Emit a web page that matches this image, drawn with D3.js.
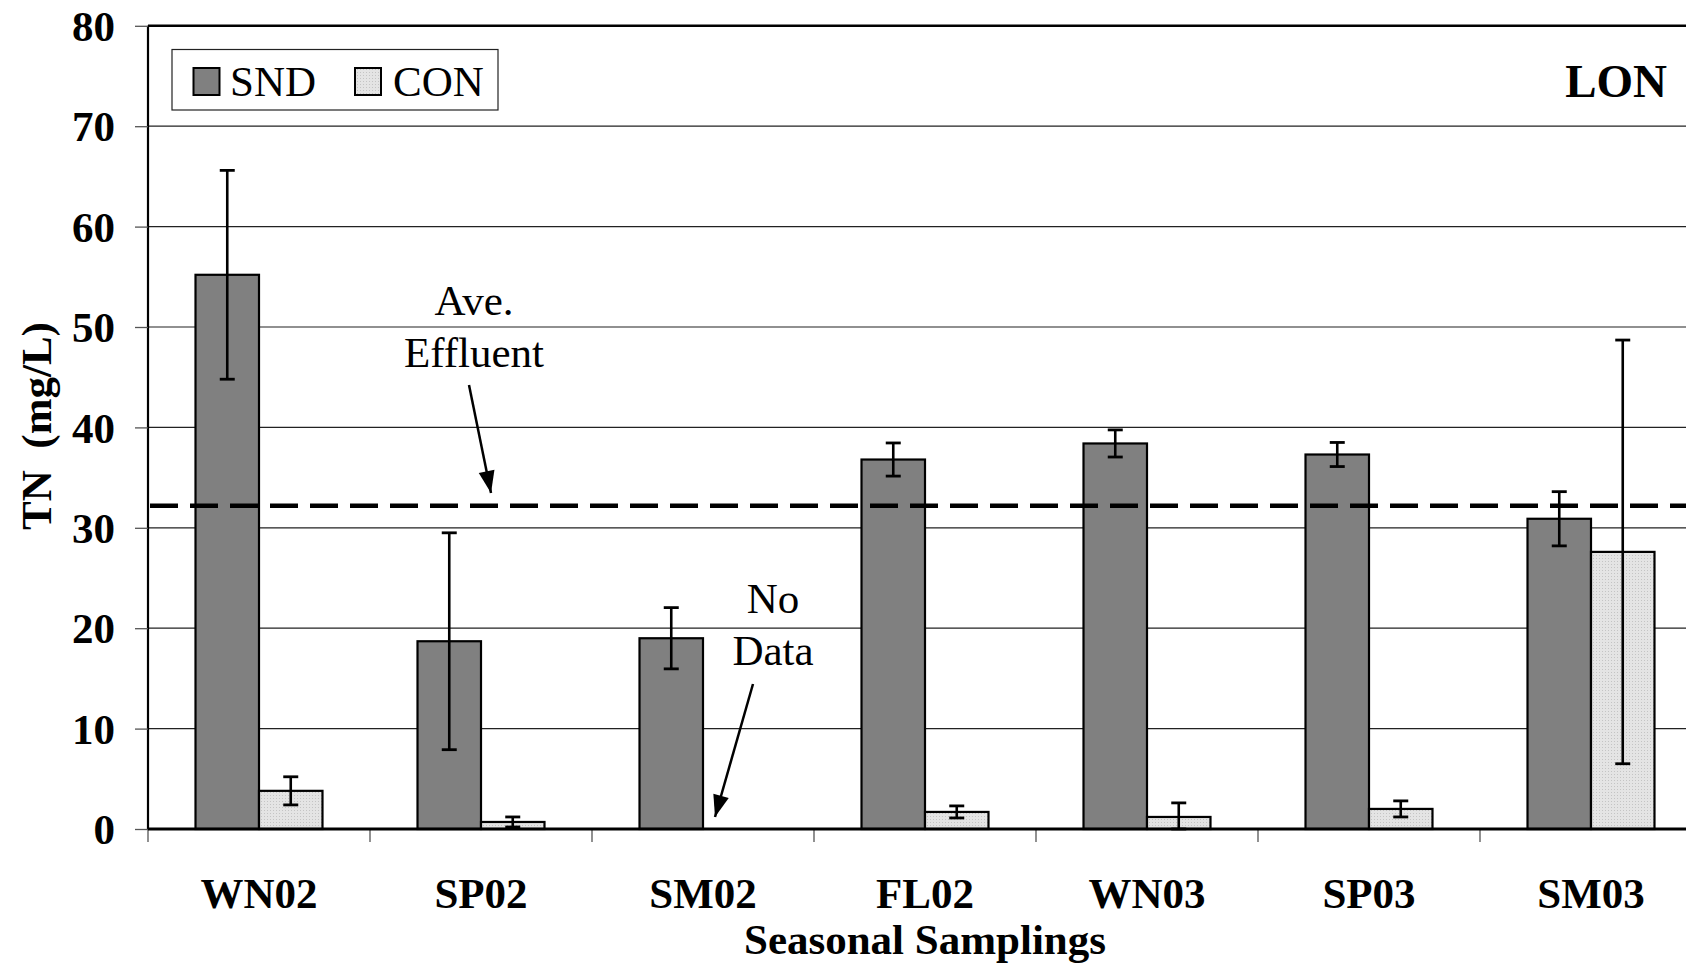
<!DOCTYPE html>
<html><head><meta charset="utf-8">
<script src="https://cdn.jsdelivr.net/npm/d3@7"></script>
<style>body{margin:0;background:#fff}svg{display:block;font-family:"Liberation Serif","Times New Roman",serif}</style>
</head><body><svg id="c" width="1686" height="966"></svg>
<script>
const categories = ["WN02","SP02","SM02","FL02","WN03","SP03","SM03"];
const series = ["SND","CON"];
const sndValues = [55.2, 18.7, 19.0, 36.8, 38.4, 37.3, 30.9];
const sndErrors = [10.4, 10.8, 3.05, 1.65, 1.35, 1.2, 2.7];
const conValues = [3.8, 0.7, null, 1.7, 1.2, 2.0, 27.6];
const conErrors = [1.4, 0.5, null, 0.6, 1.4, 0.8, 21.1];
const yTicks = [0,10,20,30,40,50,60,70,80];
const aveEffluent = 32.2;
const yTitle = "TN  (mg/L)";
const xTitle = "Seasonal Samplings";
const siteLabel = "LON";

const svg = d3.select("#c");
const L = 148, R = 1702, T = 25.8, B = 829;
const x = d3.scaleBand().domain(categories).range([L, R]).paddingInner(0).paddingOuter(0);
const y = d3.scaleLinear().domain([0, 80]).range([B, T]);
const bw = x.bandwidth() * 0.286;

const defs = svg.append("defs");
const pat = defs.append("pattern").attr("id","dots").attr("width",3).attr("height",3).attr("patternUnits","userSpaceOnUse");
pat.append("rect").attr("width",3).attr("height",3).attr("fill","#e4e4e4");
pat.append("rect").attr("width",1).attr("height",1).attr("fill","#c4c4c4");

// gridlines
svg.append("g").selectAll("line").data(yTicks.filter(d => d > 0 && d < 80)).join("line")
  .attr("x1", L).attr("x2", R).attr("y1", d => y(d)).attr("y2", d => y(d))
  .attr("stroke", "#222").attr("stroke-width", 1.2);
// top border
svg.append("line").attr("x1", L).attr("x2", R).attr("y1", y(80)).attr("y2", y(80)).attr("stroke","#000").attr("stroke-width",2.5);

// y axis
const ya = svg.append("g").attr("transform", `translate(${L},0)`)
  .call(d3.axisLeft(y).tickValues(yTicks).tickSize(13).tickPadding(20));
ya.select(".domain").attr("stroke","#000").attr("stroke-width",2.2).attr("d", `M0,${y(0)}V${y(80)}`);
ya.selectAll(".tick line").attr("stroke","#555").attr("stroke-width",1.3);
ya.selectAll("text").attr("font-size",43).attr("font-weight","bold").attr("fill","#000")
  .attr("font-family","Liberation Serif").attr("dy","0.34em");

// x axis
const xa = svg.append("g").attr("transform", `translate(0,${B})`)
  .call(d3.axisBottom(x).tickSize(0).tickPadding(48));
xa.select(".domain").remove();
xa.selectAll("text").attr("font-size",43).attr("font-weight","bold").attr("fill","#000")
  .attr("font-family","Liberation Serif");
svg.append("g").selectAll("line").data(categories).join("line")
  .attr("x1", d => x(d)).attr("x2", d => x(d)).attr("y1", B).attr("y2", B + 13)
  .attr("stroke","#555").attr("stroke-width",1.3);

// bars
const rows = categories.map((c, i) => ({c, snd: sndValues[i], sndE: sndErrors[i], con: conValues[i], conE: conErrors[i]}));
const g = svg.append("g");
rows.forEach(r => {
  const cx = x(r.c) + x.bandwidth() / 2;
  g.append("rect").attr("x", cx - bw).attr("y", y(r.snd)).attr("width", bw).attr("height", y(0) - y(r.snd))
    .attr("fill","#808080").attr("stroke","#000").attr("stroke-width",2.2);
  if (r.con != null) {
    g.append("rect").attr("x", cx).attr("y", y(r.con)).attr("width", bw).attr("height", y(0) - y(r.con))
      .attr("fill","url(#dots)").attr("stroke","#000").attr("stroke-width",2.2);
  }
});
// error bars
function errbar(xc, v, e) {
  const lo = Math.max(0, v - e), hi = v + e, cw = 7.5;
  g.append("line").attr("x1", xc).attr("x2", xc).attr("y1", y(lo)).attr("y2", y(hi)).attr("stroke","#000").attr("stroke-width",2.6);
  g.append("line").attr("x1", xc - cw).attr("x2", xc + cw).attr("y1", y(hi)).attr("y2", y(hi)).attr("stroke","#000").attr("stroke-width",2.8);
  g.append("line").attr("x1", xc - cw).attr("x2", xc + cw).attr("y1", y(lo)).attr("y2", y(lo)).attr("stroke","#000").attr("stroke-width",2.8);
}
rows.forEach(r => {
  const cx = x(r.c) + x.bandwidth() / 2;
  errbar(cx - bw / 2, r.snd, r.sndE);
  if (r.con != null) errbar(cx + bw / 2, r.con, r.conE);
});

// x axis line
svg.append("line").attr("x1", L).attr("x2", R).attr("y1", B).attr("y2", B).attr("stroke","#000").attr("stroke-width",3);

// dashed average line
svg.append("line").attr("x1", L + 2).attr("x2", R).attr("y1", y(aveEffluent)).attr("y2", y(aveEffluent))
  .attr("stroke","#000").attr("stroke-width",4.5).attr("stroke-dasharray","28,12");

// annotations
function ann(lines, cxp, base, x1, y1, x2, y2) {
  lines.forEach((t, i) => svg.append("text").attr("x", cxp).attr("y", base + i * 52).attr("text-anchor","middle")
    .attr("font-size",43).attr("fill","#000").text(t));
  svg.append("line").attr("x1", x1).attr("y1", y1).attr("x2", x2).attr("y2", y2)
    .attr("stroke","#000").attr("stroke-width",2.5);
  const ang = Math.atan2(y2 - y1, x2 - x1), len = 22, wid = 8;
  const bx = x2 - len * Math.cos(ang), by = y2 - len * Math.sin(ang);
  const px = -Math.sin(ang) * wid, py = Math.cos(ang) * wid;
  svg.append("path").attr("d", `M${x2},${y2}L${bx + px},${by + py}L${bx - px},${by - py}Z`).attr("fill","#000");
}
ann(["Ave.","Effluent"], 474, 315, 469, 385, 491, 493);
ann(["No","Data"], 773, 613, 753, 684, 715, 817);

// legend
const lg = svg.append("g");
lg.append("rect").attr("x",172).attr("y",49.5).attr("width",326).attr("height",60.5).attr("fill","#fff").attr("stroke","#222").attr("stroke-width",1.2);
[[193.5,"#808080","SND",230],[355,"url(#dots)","CON",393]].forEach(([sx, f, t, tx]) => {
  lg.append("rect").attr("x", sx).attr("y", 68).attr("width", 26).attr("height", 27).attr("fill", f).attr("stroke","#000").attr("stroke-width",2);
  lg.append("text").attr("x", tx).attr("y", 96).attr("font-size",43).attr("fill","#000").text(t);
});

svg.append("text").attr("x",1667).attr("y",97).attr("text-anchor","end").attr("font-size",47).attr("font-weight","bold").text(siteLabel);
svg.append("text").attr("x",925).attr("y",954).attr("text-anchor","middle").attr("font-size",43).attr("font-weight","bold").text(xTitle);
svg.append("text").attr("transform","translate(51,426) rotate(-90)").attr("text-anchor","middle").attr("font-size",43).attr("font-weight","bold")
  .attr("xml:space","preserve").text(yTitle);
</script></body></html>
